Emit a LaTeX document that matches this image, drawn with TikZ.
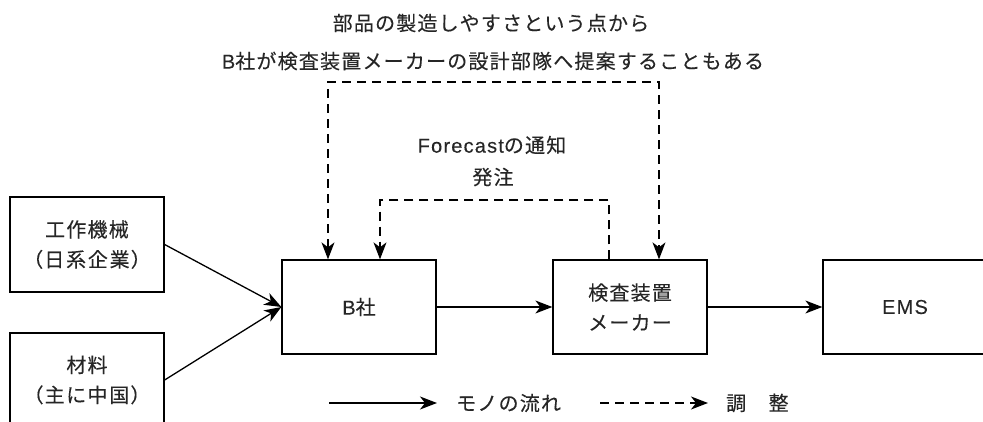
\documentclass[tikz,border=0pt]{standalone}
\usepackage{fontspec}
\setmainfont{Noto Sans CJK JP}[LetterSpace=6,FakeBold=0.2]
\newfontfamily\jpp{Noto Sans CJK JP}[RawFeature=+palt,LetterSpace=9,FakeBold=0.2]
\newfontfamily\lat{Liberation Sans}[LetterSpace=6,FakeBold=0.2]
\usetikzlibrary{arrows.meta}
\begin{document}
\begin{tikzpicture}[x=1pt,y=-1pt,
  >={Stealth[length=17pt,width=13pt,inset=5pt]},
  every node/.style={font=\fontsize{20}{30}\selectfont, text=black!85},
  box/.style={draw, line width=1.3pt, align=center, inner sep=0pt},
  flow/.style={line width=1.3pt, ->},
  adj/.style={line width=1.3pt, dash pattern=on 9pt off 6pt},
  lbl/.style={align=center, inner sep=0pt}]
\useasboundingbox (0,0) rectangle (983,422);
\clip (0,0) rectangle (983,422);
% boxes
\node[box, minimum width=154pt, minimum height=95pt] (kikai) at (87,244.5)
  {工作機械\\{\jpp （日系企業）}};
\node[box, minimum width=154pt, minimum height=94pt] (zairyo) at (87,380)
  {材料\\{\jpp （主に中国）}};
\node[box, minimum width=154pt, minimum height=94pt] (bsha) at (359,307)
  {{\lat B}社};
\node[box, minimum width=154pt, minimum height=94pt] (kensa) at (630,307)
  {検査装置\\メーカー};
\node[box, minimum width=164pt, minimum height=94pt] (ems) at (905,307)
  {{\lat EMS}};
% material flow
\draw[flow] (kikai.east) -- (bsha.west);
\draw[flow] (zairyo.east) -- (bsha.west);
\draw[flow] (bsha.east) -- (kensa.west);
\draw[flow] (kensa.east) -- (ems.west);
% coordination
\coordinate (ol) at (328,82);
\coordinate (or) at (659,82);
\coordinate (il) at (380,200);
\coordinate (ir) at (609,200);
\draw[adj, <->] (bsha.north -| ol) -- (ol) -- (or) -- (kensa.north -| or);
\draw[adj, ->] (kensa.north -| ir) -- (ir) -- (il) -- (bsha.north -| il);
% labels
\node[lbl] (top1) at (491,23) {部品の製造しやすさという点から};
\node[lbl] (top2) at (493,61) {{\lat B}社が検査装置メーカーの設計部隊へ提案することもある};
\node[lbl] (fc) at (492,145) {{\lat Forecast}の通知};
\node[lbl] (hc) at (493,177) {発注};
% legend
\coordinate (l1a) at (329,403);
\coordinate (l1b) at (437,403);
\coordinate (l2a) at (600,403);
\coordinate (l2b) at (708,403);
\draw[flow] (l1a) -- (l1b);
\node[lbl, anchor=west] (leg1) at (456,403) {モノの流れ};
\draw[adj, ->] (l2a) -- (l2b);
\node[lbl, anchor=west] (leg2) at (726,403) {調　整};
\end{tikzpicture}
\end{document}
